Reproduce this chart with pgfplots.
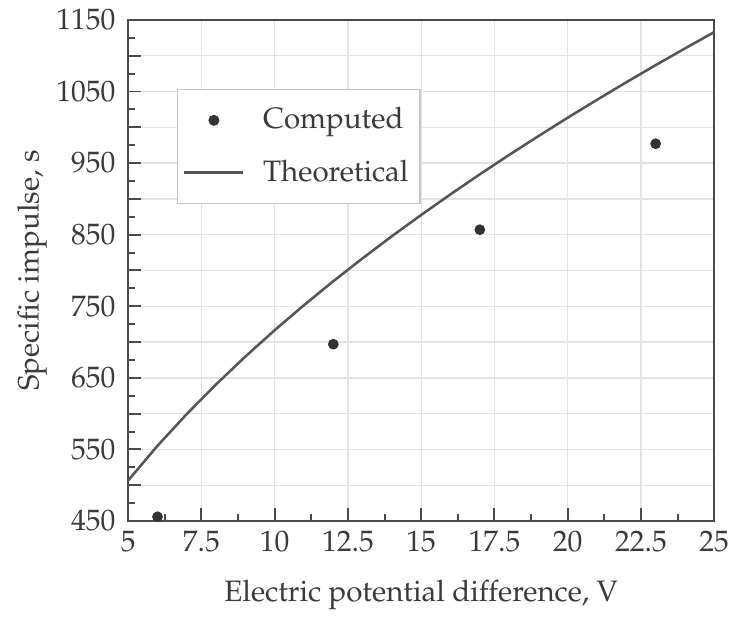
\documentclass[border=0pt]{standalone}
\usepackage[T1]{fontenc}
\usepackage{mathpazo}
\usepackage{pgfplots}
\pgfplotsset{compat=1.18}
\definecolor{axc}{HTML}{4A4A4A}
\definecolor{txc}{HTML}{3A3A3A}
\definecolor{gridc}{HTML}{E3E3E3}
\definecolor{linec}{HTML}{555555}
\definecolor{ptc}{HTML}{333333}
\begin{document}
\begin{tikzpicture}
\begin{axis}[
  scale only axis,
  width=208.5pt, height=178.3pt,
  xmin=5, xmax=25, ymin=450, ymax=1150,
  xtick={5,7.5,...,25},
  xticklabels={5,7.5,10,12.5,15,17.5,20,22.5,25},
  ytick={450,500,...,1150},
  yticklabels={450,,550,,650,,750,,850,,950,,1050,,1150},
  minor x tick num=1,
  minor y tick num=1,
  tick align=inside,
  xtick pos=bottom, ytick pos=left,
  major tick length=4.5pt, minor tick length=2.5pt,
  grid=major,
  major grid style={gridc, line width=0.5pt},
  axis line style={axc, line width=0.8pt},
  every tick/.style={axc, line width=0.7pt},
  tick label style={txc, font=\fontsize{10.5}{12.5}\selectfont},
  xticklabel style={inner xsep=0pt},
  yticklabel style={xshift=-1pt},
  label style={txc, font=\fontsize{10.5}{12.5}\selectfont},
  xlabel={Electric potential difference, V},
  ylabel={Specific impulse, s},
  xlabel style={yshift=-3pt},
  ylabel style={yshift=-3.5pt},
  legend style={at={(0.083,0.863)}, anchor=north west, draw=gray!45, line width=0.5pt,
    font=\fontsize{10.5}{12.5}\selectfont, text=txc, row sep=5.5pt,
    inner xsep=2pt, inner ysep=4.5pt},
  legend cell align=left,
]
\addplot[only marks, mark=*, mark size=1.7pt, ptc,
  legend image code/.code={\path[draw=none,fill=none] (0,0) -- (26pt,0); \fill[ptc] (10.5pt,0) circle (1.7pt);}] coordinates {
  (6,456) (12,697) (17,857) (23,977)
};
\addlegendentry{Computed}
\addplot[linec, line width=0.9pt,
  legend image code/.code={\path[draw=none] (0,0) -- (26pt,0); \draw[linec, line width=0.9pt] (0,0) -- (21pt,0);}] coordinates {
  (5,506.7) (6,555.1) (7,599.5) (8,640.9) (9,679.8) (10,716.6)
  (11,751.6) (12,785.0) (13,817.0) (14,847.9) (15,877.6) (16,906.4)
  (17,934.3) (18,961.4) (19,987.7) (20,1013.4) (21,1038.4) (22,1062.9)
  (23,1086.8) (24,1110.1) (25,1133.0)
};
\addlegendentry{Theoretical}
\end{axis}
\path (current axis.south west) ++(-45.6pt,0);
\end{tikzpicture}
\end{document}
